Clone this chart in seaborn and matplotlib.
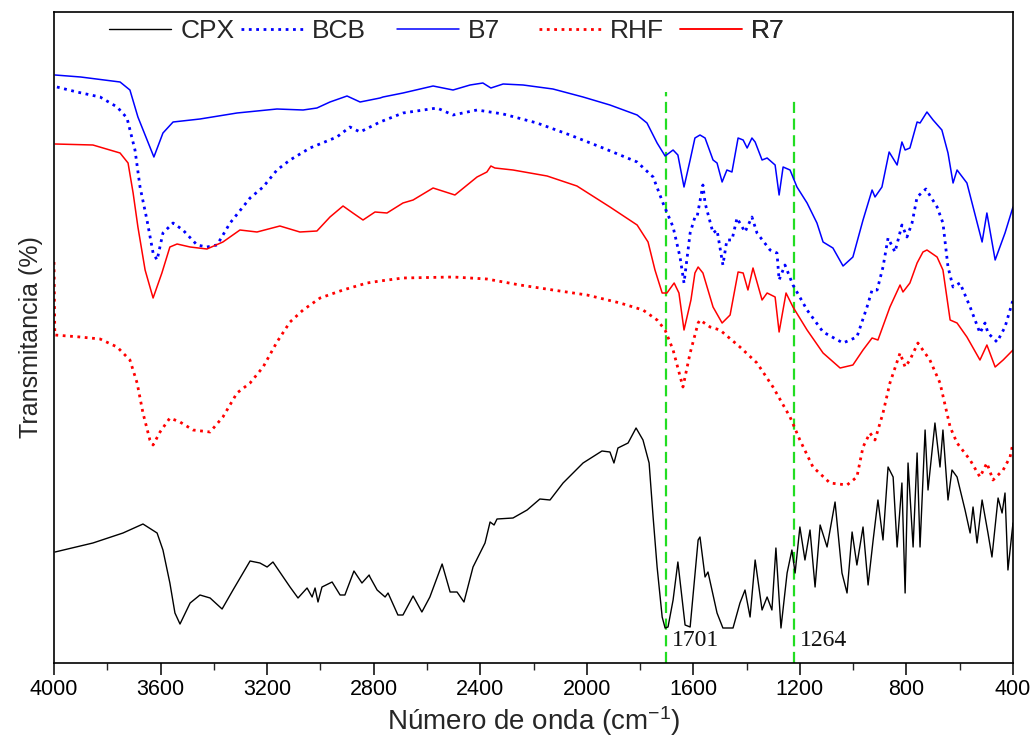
import numpy as np
import pandas as pd
import matplotlib
matplotlib.use("Agg")
import matplotlib.pyplot as plt
from matplotlib.ticker import MultipleLocator
from matplotlib.lines import Line2D
import seaborn as sns

# ---------------- data (wavenumber cm-1, transmittance in arbitrary units) ----------------
b7_w = [3996, 3900, 3752, 3715, 3685, 3658, 3625, 3591, 3553, 3452, 3313, 3163, 3065, 3013, 2964, 2900,
        2851, 2776, 2765, 2690, 2577, 2502, 2438, 2390, 2360, 2314, 2239, 2127, 2014, 1913, 1811,
        1774, 1736, 1706, 1676, 1658, 1635, 1612, 1594, 1575, 1556, 1526, 1511, 1492, 1474, 1455,
        1432, 1413, 1398, 1380, 1368, 1342, 1323, 1293, 1278, 1263, 1237, 1211, 1173, 1136, 1113,
        1076, 1038, 1001, 963, 929, 918, 892, 865, 835, 817, 805, 787, 760, 749, 723, 700, 667,
        644, 625, 610, 573, 516, 498, 467, 430, 400]
b7_t = [588, 586, 581, 573, 546, 528, 506, 530, 541, 544, 550, 554, 553, 555, 561, 567,
        561, 565, 566, 570, 577, 573, 578, 580, 575, 579, 578, 574, 566, 558, 548,
        540, 520, 507, 513, 508, 476, 503, 525, 528, 525, 503, 500, 481, 493, 491,
        525, 523, 515, 525, 521, 503, 505, 498, 468, 496, 493, 476, 460, 440, 421,
        415, 397, 406, 443, 473, 466, 476, 511, 498, 521, 513, 515, 541, 540, 551, 543, 533,
        510, 480, 493, 480, 421, 450, 403, 430, 456]

bcb_w = [3989, 3914, 3827, 3763, 3726, 3696, 3677, 3651, 3628, 3613, 3591, 3553, 3516, 3463, 3426,
         3388, 3339, 3264, 3215, 3163, 3114, 3039, 2938, 2889, 2851, 2776, 2690, 2562, 2502, 2412,
         2314, 2187, 2063, 1939, 1811, 1751, 1714, 1676, 1650, 1635, 1612, 1594, 1586, 1564, 1556,
         1526, 1511, 1489, 1474, 1455, 1436, 1406, 1380, 1361, 1312, 1286, 1278, 1256, 1226, 1173,
         1113, 1038, 986, 948, 929, 910, 888, 869, 843, 817, 798, 779, 760, 727, 685, 663, 644,
         625, 599, 561, 524, 505, 494, 460, 430, 400]
bcb_t = [576, 571, 566, 556, 545, 513, 476, 443, 410, 403, 430, 440, 433, 418, 416,
         418, 440, 465, 476, 493, 503, 515, 526, 536, 531, 541, 550, 555, 548, 553,
         549, 540, 528, 515, 501, 486, 460, 436, 406, 380, 430, 446, 446, 478, 460,
         430, 433, 398, 423, 423, 445, 431, 446, 430, 413, 410, 383, 398, 378, 353,
         331, 320, 326, 356, 373, 373, 396, 425, 411, 438, 426, 440, 466, 474, 456, 440, 396,
         376, 380, 356, 330, 340, 330, 321, 336, 363]

r7_w = [3996, 3854, 3752, 3722, 3703, 3685, 3658, 3628, 3595, 3565, 3538, 3489, 3426, 3366, 3302,
        3238, 3152, 3077, 3013, 2964, 2915, 2878, 2840, 2795, 2750, 2690, 2652, 2577, 2495, 2412,
        2375, 2360, 2345, 2277, 2149, 2037, 1913, 1811, 1770, 1744, 1717, 1699, 1672, 1654, 1635,
        1609, 1594, 1582, 1564, 1526, 1492, 1462, 1432, 1413, 1395, 1376, 1342, 1323, 1293, 1278,
        1252, 1226, 1173, 1113, 1049, 1001, 963, 929, 907, 862, 824, 813, 787, 760, 738, 723,
        685, 663, 636, 610, 573, 524, 498, 467, 437, 400]
r7_t = [519, 518, 510, 500, 470, 436, 393, 365, 390, 416, 419, 416, 414, 421, 433,
        431, 437, 431, 432, 446, 457, 450, 443, 451, 450, 460, 463, 475, 468, 486,
        491, 497, 495, 493, 487, 477, 456, 438, 421, 393, 370, 370, 380, 370, 333,
        363, 390, 396, 390, 356, 340, 348, 391, 390, 373, 395, 363, 370, 366, 331,
        370, 356, 333, 310, 295, 298, 313, 325, 323, 356, 378, 371, 380, 400, 411, 413,
        406, 393, 343, 340, 326, 303, 318, 296, 303, 313]

rhf_w = [4000, 3997, 3902, 3827, 3763, 3715, 3688, 3666, 3640, 3628, 3602, 3565, 3527, 3478, 3414,
         3366, 3313, 3264, 3215, 3163, 3114, 3065, 3001, 2915, 2825, 2776, 2690, 2502, 2375, 2251,
         2127, 1999, 1875, 1789, 1736, 1706, 1676, 1639, 1612, 1582, 1575, 1537, 1500, 1425, 1361,
         1301, 1237, 1200, 1151, 1087, 1023, 986, 963, 937, 918, 888, 862, 824, 805, 787, 757,
         712, 674, 636, 610, 561, 524, 498, 475, 437, 411, 400]
rhf_t = [401, 328, 326, 324, 316, 303, 280, 250, 223, 218, 231, 245, 241, 233, 231,
         246, 270, 280, 296, 321, 341, 353, 365, 373, 380, 382, 385, 386, 384, 378,
         373, 368, 360, 353, 343, 333, 313, 276, 310, 340, 343, 336, 333, 316, 300,
         276, 246, 223, 196, 180, 178, 186, 216, 230, 223, 250, 280, 310, 296, 303, 320,
         303, 280, 236, 220, 203, 186, 200, 183, 193, 206, 220]

cpx_w = [3996, 3854, 3741, 3666, 3613, 3591, 3565, 3546, 3527, 3489, 3452, 3414, 3369, 3328, 3264,
         3227, 3200, 3178, 3114, 3084, 3050, 3031, 3020, 3009, 2994, 2956, 2926, 2908, 2874, 2844,
         2817, 2814, 2787, 2757, 2746, 2709, 2690, 2652, 2619, 2589, 2543, 2513, 2487, 2461, 2427,
         2382, 2363, 2348, 2337, 2277, 2224, 2176, 2138, 2089, 2014, 1943, 1913, 1898, 1883, 1845,
         1815, 1789, 1766, 1751, 1736, 1717, 1706, 1695, 1676, 1658, 1631, 1612, 1582, 1575, 1556,
         1545, 1511, 1489, 1451, 1425, 1406, 1387, 1368, 1342, 1323, 1305, 1290, 1271, 1248, 1230,
         1218, 1200, 1181, 1162, 1143, 1124, 1098, 1068, 1042, 1023, 1004, 986, 963, 944, 925,
         907, 888, 869, 850, 835, 817, 805, 794, 775, 760, 749, 730, 719, 693, 674, 663,
         644, 629, 610, 580, 561, 550, 535, 516, 494, 479, 456, 441, 430, 419, 400]
cpx_t = [111, 120, 130, 139, 130, 113, 80, 50, 39, 60, 68, 65, 54, 73, 102,
         100, 96, 101, 76, 65, 75, 66, 75, 61, 76, 81, 68, 68, 92, 80,
         88, 86, 73, 66, 70, 48, 48, 67, 51, 66, 99, 71, 71, 61, 96,
         120, 141, 138, 144, 145, 153, 164, 163, 180, 200, 212, 211, 200, 215, 220,
         235, 223, 200, 146, 96, 46, 35, 36, 63, 101, 38, 36, 123, 126, 86,
         91, 50, 35, 35, 60, 73, 46, 103, 53, 66, 53, 115, 35, 90, 113,
         90, 136, 103, 133, 76, 138, 116, 161, 90, 70, 131, 98, 136, 78, 123,
         163, 123, 196, 186, 116, 180, 70, 200, 116, 210, 116, 233, 173, 240, 196, 233,
         163, 193, 186, 153, 130, 156, 120, 163, 130, 106, 165, 150, 170, 93, 140]

series_names = ["CPX", "BCB", "B7", "RHF", "R7"]
marker_lines = [1701, 1222]
marker_tops = [571, 565]
marker_labels = ["1701", "1264"]
x_ticks = [4000, 3600, 3200, 2800, 2400, 2000, 1600, 1200, 800, 400]

# ---------------- styling ----------------
sns.set_style("white")
plt.rcParams["font.family"] = ["Liberation Sans", "DejaVu Sans"]
plt.rcParams["mathtext.fontset"] = "custom"
plt.rcParams["mathtext.rm"] = "Liberation Sans"
plt.rcParams["mathtext.it"] = "Liberation Sans"
plt.rcParams["mathtext.default"] = "regular"

fig = plt.figure(figsize=(10.32, 7.55), dpi=100)
ax = fig.add_axes([54 / 1032, 92 / 755, 959 / 1032, 651 / 755])

data = {
    "CPX": (cpx_w, cpx_t, "black", "-", 1.0),
    "BCB": (bcb_w, bcb_t, "#0000ff", ":", 2.0),
    "B7": (b7_w, b7_t, "#0000ff", "-", 1.1),
    "RHF": (rhf_w, rhf_t, "#ff0000", ":", 2.0),
    "R7": (r7_w, r7_t, "#ff0000", "-", 1.1),
}

for name in series_names:
    w, t, col, ls, lw = data[name]
    df = pd.DataFrame({"w": w, "t": t})
    sns.lineplot(data=df, x="w", y="t", ax=ax, color=col, linestyle=ls, linewidth=lw,
                 sort=False, estimator=None, legend=False)

for xv, top, lab in zip(marker_lines, marker_tops, marker_labels):
    ax.vlines(xv, 0, top, colors="#22dd22", linestyles=(0, (5, 2.5)), linewidth=1.6, zorder=1)
    ax.text(xv - 22, 23, lab, fontsize=17, family=["Liberation Serif", "DejaVu Serif"],
            ha="left", va="center", color="#111111")

ax.set_xlim(4000, 400)
ax.set_ylim(0, 651)
ax.set_xticks(x_ticks)
ax.xaxis.set_minor_locator(MultipleLocator(200))
ax.set_yticks([])
ax.tick_params(axis="x", which="major", direction="out", length=8.5, width=1.1,
               labelsize=15.5, pad=3, bottom=True, top=False, colors="black")
ax.tick_params(axis="x", which="minor", direction="out", length=5, width=1.0,
               bottom=True, top=False)
for s in ax.spines.values():
    s.set_color("black")
    s.set_linewidth(1.2)

ax.set_xlabel("Número de onda (cm$^{-1}$)", fontsize=20, labelpad=3)
ax.set_ylabel("Transmitancia (%)", fontsize=18, labelpad=8)

# legend entries placed individually (positions follow the reference layout)
legend_x_px = [109, 241, 397, 539, 680]
for name, xpx in zip(series_names, legend_x_px):
    w, t, col, ls, lw = data[name]
    h = Line2D([], [], color=col, linestyle=ls, linewidth=lw)
    lg = ax.legend([h], [name], loc="center left",
                   bbox_to_anchor=((xpx - 54) / 959, 1 - 19 / 651), frameon=False,
                   fontsize=19, handlelength=2.35, handletextpad=0.35, borderpad=0,
                   borderaxespad=0)
    ax.add_artist(lg)

fig.savefig("out.png", dpi=100, facecolor="white")
